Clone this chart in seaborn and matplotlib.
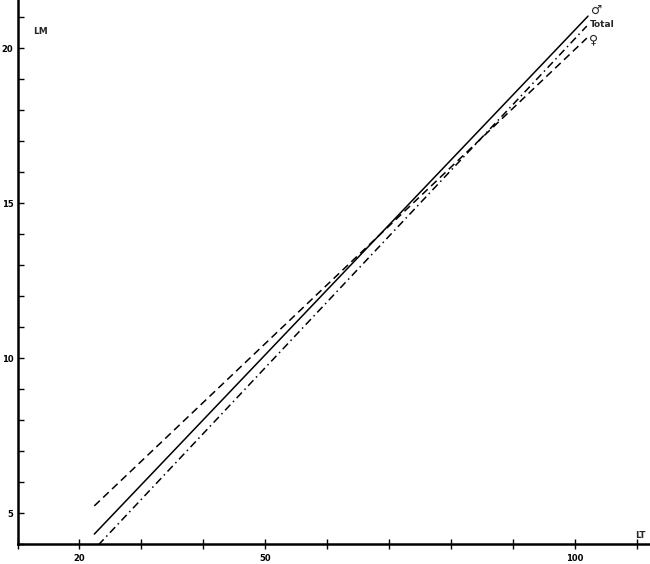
import numpy as np
import pandas as pd
import matplotlib
matplotlib.use("Agg")
import matplotlib.pyplot as plt
import seaborn as sns

# regression lines LM vs LT, endpoints
male_lt = [22.4, 102.1]
male_lm = [4.32, 21.03]
female_lt = [22.4, 101.9]
female_lm = [5.23, 20.32]
total_lt = [23.06, 101.9]
total_lm = [3.97, 20.71]

x_ticks = [10, 20, 30, 40, 50, 60, 70, 80, 90, 100, 110]
x_labels = ['', '20', '', '', '50', '', '', '', '', '100', '']
y_ticks = list(range(4, 22))
y_labels = [str(v) if v % 5 == 0 else '' for v in y_ticks]

df = pd.concat([
    pd.DataFrame({'LT': male_lt, 'LM': male_lm, 'group': 'male'}),
    pd.DataFrame({'LT': female_lt, 'LM': female_lm, 'group': 'female'}),
    pd.DataFrame({'LT': total_lt, 'LM': total_lm, 'group': 'total'}),
])

sns.set_style("ticks")
plt.rcParams['font.family'] = ['DejaVu Sans']

fig = plt.figure(figsize=(6.5, 5.64), dpi=100)
ax = fig.add_axes([17.5 / 650, 20 / 564, 632.5 / 650, 544 / 564])

sns.lineplot(data=df, x='LT', y='LM', hue='group', style='group',
             palette={'male': 'black', 'female': 'black', 'total': 'black'},
             dashes={'male': '', 'female': (5, 3), 'total': (5, 2.5, 1, 2.5)},
             linewidth=1.1, legend=False, ax=ax, estimator=None, sort=False)

ax.set_xlim(10, 112.1)
ax.set_ylim(4, 21.55)
ax.set_xticks(x_ticks)
ax.set_xticklabels(x_labels)
ax.set_yticks(y_ticks)
ax.set_yticklabels(y_labels)
ax.set_xlabel('')
ax.set_ylabel('')

for s in ['top', 'right']:
    ax.spines[s].set_visible(False)
for s in ['left', 'bottom']:
    ax.spines[s].set_linewidth(1.8)
    ax.spines[s].set_color('black')

ax.tick_params(axis='x', direction='inout', length=7, width=1.0,
               labelsize=6, colors='black', pad=4)
ax.tick_params(axis='y', direction='in', length=4, width=1.0,
               labelsize=6, colors='black', pad=3)
for lab in ax.get_xticklabels() + ax.get_yticklabels():
    lab.set_fontweight('bold')

# axis names and line labels
ax.text((40 - 17.5) / 632.5, 1 - 31 / 544, 'LM', transform=ax.transAxes, fontsize=6.5,
        fontweight='bold', ha='center', va='center')
ax.text((640 - 17.5) / 632.5, 1 - 535 / 544, 'LT', transform=ax.transAxes, fontsize=6.5,
        fontweight='bold', ha='center', va='center')
ax.text(102.6, 21.2, '\u2642', fontsize=9, ha='left', va='center')
ax.text(102.4, 20.75, 'Total', fontsize=6.5, fontweight='bold', ha='left', va='center')
ax.text(102.3, 20.25, '\u2640', fontsize=9, fontweight='bold', ha='left', va='center')

fig.savefig('out.png', dpi=100)
